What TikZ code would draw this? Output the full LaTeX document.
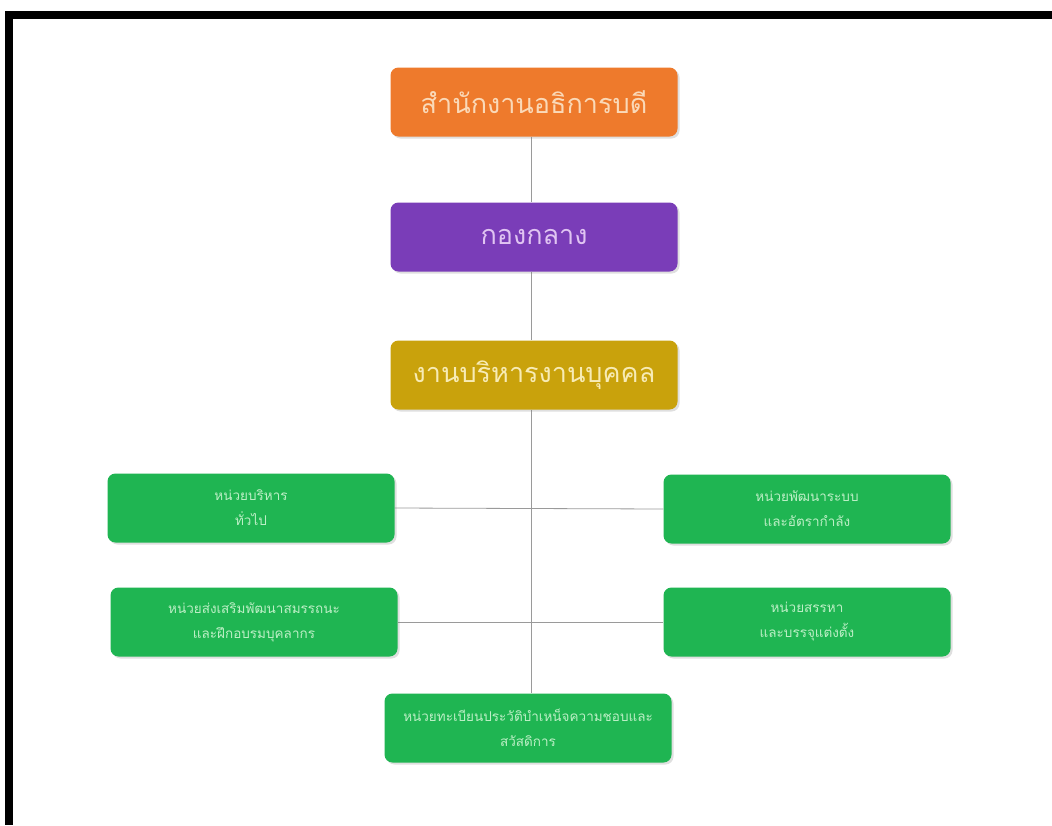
\documentclass[tikz,border=0pt]{standalone}
\usepackage{fontspec}
\newfontfamily\thaifont[Script=Thai]{Loma}
\usetikzlibrary{shadows,backgrounds}
\definecolor{orangebox}{HTML}{EE7A2C}
\definecolor{orangetxt}{HTML}{FAD9B8}
\definecolor{purplebox}{HTML}{7A3DB8}
\definecolor{purpletxt}{HTML}{E0C4F2}
\definecolor{goldbox}{HTML}{C9A20C}
\definecolor{goldtxt}{HTML}{F7EBB5}
\definecolor{greenbox}{HTML}{1FB552}
\definecolor{greentxt}{HTML}{BDEFC6}
\definecolor{linkgray}{HTML}{9A9A9A}
\tikzset{
  box/.style={rectangle, rounded corners=8pt, minimum width=287pt, minimum height=69pt,
    inner sep=2pt, align=center, font=\thaifont, drop shadow={shadow xshift=2pt, shadow yshift=-2pt, opacity=0.25}},
  topbox/.style={box, fill=orangebox, text=orangetxt, font=\thaifont\fontsize{27}{30}\selectfont},
  midbox/.style={box, fill=purplebox, text=purpletxt, font=\thaifont\fontsize{27}{30}\selectfont},
  goldnode/.style={box, fill=goldbox, text=goldtxt, font=\thaifont\fontsize{27}{30}\selectfont},
  unitbox/.style={box, fill=greenbox, text=greentxt, font=\thaifont\fontsize{13.5}{25}\selectfont},
  link/.style={draw=linkgray, line width=0.8pt}
}
\begin{document}
\begin{tikzpicture}[x=1pt,y=-1pt]
\useasboundingbox (0,0) rectangle (1052,825);
% frame
\fill[black] (5,11) rectangle (1052,19);
\fill[black] (5,11) rectangle (13,825);
% nodes
\node[topbox] (top) at (534,102) {สำนักงานอธิการบดี};
\node[midbox] (mid) at (534,237) {กองกลาง};
\node[goldnode] (hr) at (534,375) {งานบริหารงานบุคคล};
\node[unitbox] (g1) at (251,508) {หน่วยบริหาร\\ทั่วไป};
\node[unitbox] (g2) at (807,509) {หน่วยพัฒนาระบบ\\และอัตรากำลัง};
\node[unitbox] (g3) at (254,622) {หน่วยส่งเสริมพัฒนาสมรรถนะ\\และฝึกอบรมบุคลากร};
\node[unitbox] (g4) at (807,622) {หน่วยสรรหา\\และบรรจุแต่งตั้ง};
\node[unitbox] (g5) at (528,728) {หน่วยทะเบียนประวัติบำเหน็จความชอบและ\\สวัสดิการ};
% connectors, under the boxes
\coordinate (spine) at (531,0);
\begin{pgfonlayer}{background}
\fill[white] (13,19) rectangle (1052,825);
\draw[link] (top.south -| spine) -- (mid.north -| spine);
\draw[link] (mid.south -| spine) -- (hr.north -| spine);
\draw[link] (hr.south -| spine) -- (g5.north -| spine);
\draw[link] (g1.east) -- (g2.west);
\draw[link] (g3.east) -- (g4.west);
\end{pgfonlayer}
\end{tikzpicture}
\end{document}
